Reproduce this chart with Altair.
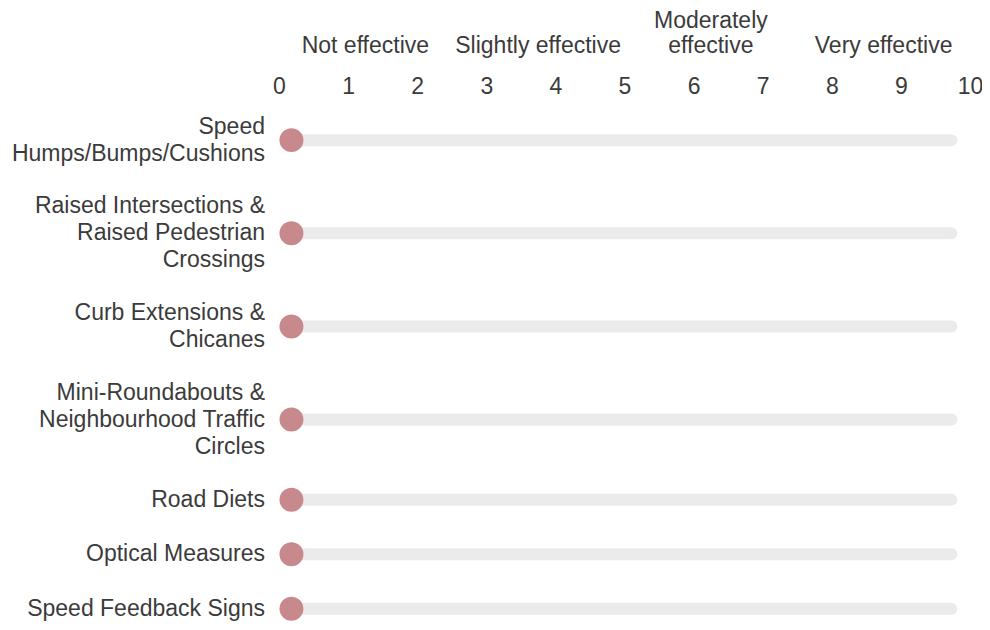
import altair as alt
import pandas as pd

# ---- data ----
measures = [
    "Speed\nHumps/Bumps/Cushions",
    "Raised Intersections &\nRaised Pedestrian\nCrossings",
    "Curb Extensions &\nChicanes",
    "Mini-Roundabouts &\nNeighbourhood Traffic\nCircles",
    "Road Diets",
    "Optical Measures",
    "Speed Feedback Signs",
]
scores = [0.18, 0.18, 0.18, 0.18, 0.18, 0.18, 0.18]
track_end = 9.73

scale_labels = ["Not effective", "Slightly effective", "Moderately\neffective", "Very effective"]
scale_centers = [1.25, 3.75, 6.25, 8.75]
x_ticks = list(range(0, 11))

# ---- layout derived from label line counts ----
PX_PER_UNIT = 25.75         # vertical pixels per text line unit
GAP = 29 / 26               # extra space per row, in line units
LINE_H = 27                 # px between label lines
lines = [m.count("\n") + 1 for m in measures]
centers = []
acc = 0.0
for n in lines:
    h = n + GAP
    centers.append(acc + h / 2)
    acc += h
y_max = centers[-1] + 0.55

df = pd.DataFrame({"measure": measures, "score": scores,
                   "end": [track_end] * len(measures), "row": centers})

line_rows = []
for m, c in zip(measures, centers):
    parts = m.split("\n")
    n = len(parts)
    for i, p in enumerate(parts):
        line_rows.append({"text": p, "row": c + (i - (n - 1) / 2) * LINE_H / PX_PER_UNIT})
lines_df = pd.DataFrame(line_rows)

top_rows = []
for lab, xc in zip(scale_labels, scale_centers):
    parts = lab.split("\n")
    for i, p in enumerate(reversed(parts)):
        top_rows.append({"text": p, "x": xc, "level": i})
top_df = pd.DataFrame(top_rows)

FONT = "Liberation Sans"
TXT = "#3b3b3b"
FS = 23
W = 691
H = round(y_max * PX_PER_UNIT)

x_scale = alt.Scale(domain=[0, 10], nice=False, zero=False)
y_scale = alt.Scale(domain=[0, y_max], reverse=True, nice=False, zero=False)

base = alt.Chart(df)

track = base.mark_rule(strokeWidth=12, strokeCap="round", color="#ebebeb").encode(
    x=alt.X("score:Q", scale=x_scale,
            axis=alt.Axis(orient="top", values=x_ticks, title=None, domain=False, ticks=False,
                          tickSize=0, grid=False, labelFont=FONT, labelFontSize=FS,
                          labelColor=TXT, labelPadding=2, labelFlush=False, format="d")),
    x2="end:Q",
    y=alt.Y("row:Q", scale=y_scale, axis=None),
)

dots = base.mark_circle(size=573, opacity=1, color="#c8898d").encode(
    x=alt.X("score:Q", scale=x_scale),
    y=alt.Y("row:Q", scale=y_scale),
)

names = alt.Chart(lines_df).mark_text(align="right", baseline="middle", font=FONT,
                                      fontSize=FS, color=TXT).encode(
    x=alt.value(-14),
    y=alt.Y("row:Q", scale=y_scale),
    text="text:N",
)

top_base = alt.Chart(top_df).mark_text(align="center", baseline="alphabetic", font=FONT,
                                       fontSize=FS, color=TXT)
top0 = top_base.transform_filter("datum.level == 0").encode(
    x=alt.X("x:Q", scale=x_scale), y=alt.value(-47), text="text:N")
top1 = top_base.transform_filter("datum.level == 1").encode(
    x=alt.X("x:Q", scale=x_scale), y=alt.value(-72), text="text:N")

chart = alt.layer(track, dots, names, top0, top1).properties(
    width=W, height=H,
    background="white",
    autosize=alt.AutoSizeParams(type="none"),
    padding={"left": 271, "top": 92, "right": 12, "bottom": 0},
).configure_view(stroke="transparent", strokeWidth=0)

chart.save("out.html", embed_options={"renderer": "svg", "actions": False})
